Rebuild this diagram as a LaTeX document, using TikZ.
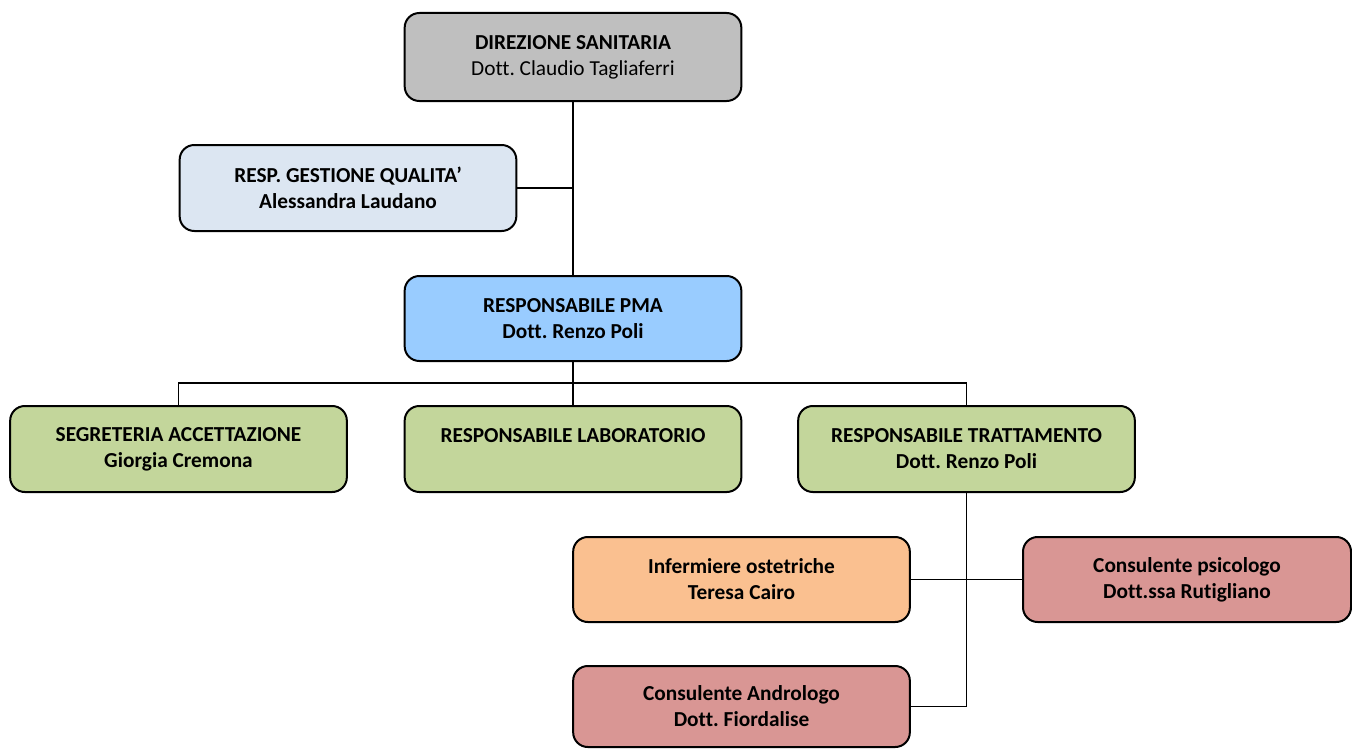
\documentclass[tikz,border=0pt]{standalone}
\usepackage{fontspec}
\setmainfont{Carlito}[Ligatures=NoCommon]
\frenchspacing
\definecolor{cgray}{HTML}{BFBFBF}
\definecolor{clblue}{HTML}{DCE6F2}
\definecolor{cblue}{HTML}{99CCFF}
\definecolor{cgreen}{HTML}{C3D69B}
\definecolor{corange}{HTML}{FAC090}
\definecolor{cpink}{HTML}{D99694}
\begin{document}
\begin{tikzpicture}[x=0.75pt,y=-0.75pt,
  box/.style={draw=black, line width=1.5pt, rounded corners=11pt, inner sep=0pt,
    align=center, font=\fontsize{16}{19.5}\selectfont\bfseries\frenchspacing,
    minimum width=252.5pt, minimum height=64.5pt},
  conn/.style={line width=1.4pt}]
\useasboundingbox (0,0) rectangle (1352,749);
\node[box, fill=cgray, minimum height=66pt] (dir) at (573,57) {DIREZIONE SANITARIA\\\mdseries Dott. Claudio Tagliaferri};
\node[box, fill=clblue] (qual) at (348,188) {RESP. GESTIONE QUALITA’\\Alessandra Laudano};
\node[box, fill=cblue, minimum height=63.75pt] (pma) at (573,318.5) {RESPONSABILE PMA\\Dott. Renzo Poli};
\node[box, fill=cgreen] (seg) at (178.5,449) {SEGRETERIA ACCETTAZIONE\\Giorgia Cremona};
\node[box, fill=cgreen] (lab) at (573,449) {RESPONSABILE LABORATORIO\\\phantom{X}};
\node[box, fill=cgreen] (trat) at (966.5,449) {RESPONSABILE TRATTAMENTO\\Dott. Renzo Poli};
\node[box, fill=corange, minimum height=63.75pt] (inf) at (741.5,579.5) {Infermiere ostetriche\\Teresa Cairo};
\node[box, fill=cpink, minimum height=63.75pt, minimum width=246pt] (psi) at (1187,579.5) {Consulente psicologo\\Dott.ssa Rutigliano};
\node[box, fill=cpink, minimum height=60.75pt] (andr) at (741.5,706.5) {Consulente Andrologo\\Dott. Fiordalise};
\coordinate (bus) at (573,383);
\draw[conn] (dir.south) -- (pma.north);
\draw[conn] (qual.east) -- (qual.east -| dir.south);
\draw[conn] (pma.south) -- (lab.north);
\draw[conn] (seg.north) -- (seg.north |- bus) -- (trat.north |- bus) -- (trat.north);
\draw[conn] (trat.south) -- (trat.south |- andr.east) -- (andr.east);
\draw[conn] (inf.east) -- (psi.west);
\end{tikzpicture}
\end{document}
